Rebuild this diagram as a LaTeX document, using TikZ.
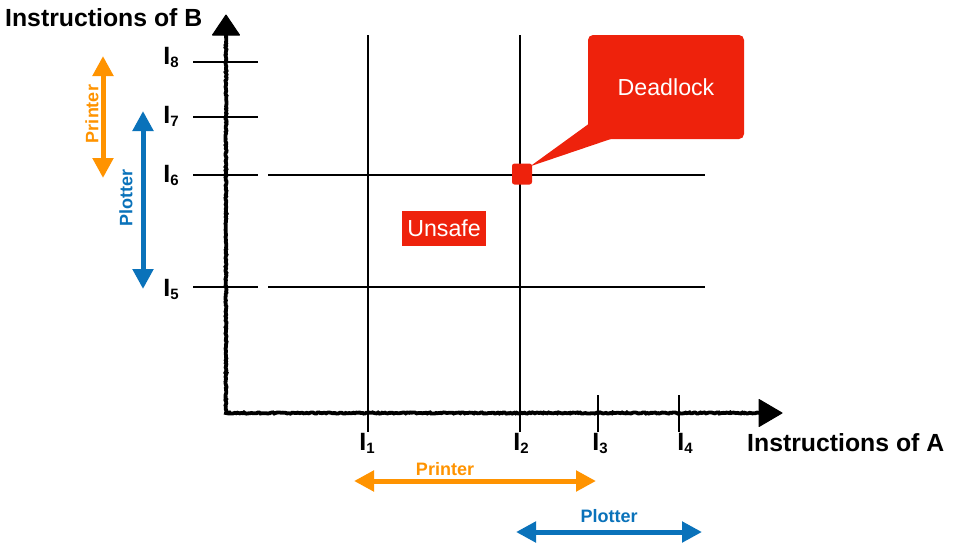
\documentclass[tikz,border=0pt]{standalone}
\usepackage{fontspec}
\setmainfont{Liberation Sans}
\usetikzlibrary{arrows.meta,decorations.pathmorphing,calc}
\definecolor{orng}{HTML}{FF9300}
\definecolor{blu}{HTML}{0A72BA}
\definecolor{redd}{HTML}{EE220C}
\newcommand{\ilab}[1]{{\fontsize{25}{25}\selectfont\bfseries I}\raisebox{-3pt}{\fontsize{15}{15}\selectfont\bfseries #1}}
\begin{document}
\begin{tikzpicture}[x=1pt,y=-1pt,
  axis/.style={line width=3.8pt, decorate, decoration={random steps,segment length=1.5pt,amplitude=0.6pt}},
  axhead/.style={fill=black, draw=black, line width=1pt, line join=round},
  gridline/.style={line width=1.6pt},
  tickline/.style={line width=2pt},
  dblarrow/.style={line width=5pt, {Triangle[width=20pt,length=20pt]}-{Triangle[width=20pt,length=20pt]}},
  reslabel/.style={font=\fontsize{18}{18}\selectfont\bfseries, inner sep=0pt},
  ilabel/.style={inner sep=0pt, anchor=center},
  axtitle/.style={font=\fontsize{24.8}{25}\selectfont\bfseries, inner sep=0pt},
  redbox/.style={fill=redd, text=white, inner sep=0pt, font=\fontsize{23.2}{23}\selectfont}
]
\useasboundingbox (0,0) rectangle (965,549);

% axes
\coordinate (O) at (226,413);
\coordinate (Ytop) at (226,30);
\coordinate (Xend) at (765,413);
\draw[axis] (Ytop) -- (O) -- (Xend);
\fill[axhead] (226,15) -- (239.5,35) -- (212.5,35) -- cycle;
\fill[axhead] (782,413) -- (759,399.5) -- (759,426.5) -- cycle;

% horizontal ticks on y axis
\foreach \yy/\nm in {62/8,117/7,175/6}{
  \coordinate (ya\nm) at (193,\yy);
  \coordinate (yb\nm) at (258,\yy);
  \draw[tickline] (ya\nm) -- (yb\nm);
}
\coordinate (ya5) at (193,287);
\coordinate (yb5) at (258,287);
\draw[line width=2.6pt] (ya5) -- (yb5);

% long horizontal lines
\coordinate (h6a) at (268,175); \coordinate (h6b) at (705,175);
\coordinate (h5a) at (268,287); \coordinate (h5b) at (705,287);
\draw[gridline] (h6a) -- (h6b);
\draw[gridline] (h5a) -- (h5b);

% vertical lines
\coordinate (v1a) at (368,35); \coordinate (v1b) at (368,432);
\coordinate (v2a) at (520,35); \coordinate (v2b) at (520,432);
\coordinate (v3a) at (598,395); \coordinate (v3b) at (598,432);
\coordinate (v4a) at (679,395); \coordinate (v4b) at (679,432);
\draw[gridline] (v1a) -- (v1b);
\draw[gridline] (v2a) -- (v2b);
\draw[tickline] (v3a) -- (v3b);
\draw[tickline] (v4a) -- (v4b);

% labels
\node[ilabel] (l8) at (171,57) {\ilab{8}};
\node[ilabel] (l7) at (171,116) {\ilab{7}};
\node[ilabel] (l6) at (171,175) {\ilab{6}};
\node[ilabel] (l5) at (171,289) {\ilab{5}};
\node[ilabel] (l1) at (367,443) {\ilab{1}};
\node[ilabel] (l2) at (521,443) {\ilab{2}};
\node[ilabel] (l3) at (600,443) {\ilab{3}};
\node[ilabel] (l4) at (685,443) {\ilab{4}};

\node[axtitle, anchor=west] (tb) at (5,18) {Instructions of B};
\node[axtitle, anchor=west] (ta) at (747,443) {Instructions of A};

% resource arrows
\coordinate (po1) at (103,56); \coordinate (po2) at (103,178);
\draw[dblarrow, orng] (po1) -- (po2);
\node[reslabel, text=orng, rotate=90] (pol) at (92,114) {Printer};
\coordinate (pb1) at (143,111); \coordinate (pb2) at (143,289);
\draw[dblarrow, blu] (pb1) -- (pb2);
\node[reslabel, text=blu, rotate=90] (pbl) at (126,198) {Plotter};

\coordinate (ho1) at (354,481); \coordinate (ho2) at (596,481);
\draw[dblarrow, orng] (ho1) -- (ho2);
\node[reslabel, text=orng] (hol) at (445,469) {Printer};
\coordinate (hb1) at (516,532); \coordinate (hb2) at (702,532);
\draw[dblarrow, blu] (hb1) -- (hb2);
\node[reslabel, text=blu] (hbl) at (609,516) {Plotter};

% unsafe
\node[redbox, minimum width=84pt, minimum height=35pt] (uns) at (444,228) {Unsafe};

% deadlock
\node[fill=redd, rounded corners=2.5pt, minimum width=20pt, minimum height=21pt, inner sep=0pt] (dead) at (522,174) {};
\node[redbox, rounded corners=5pt, minimum width=156pt, minimum height=104pt] (dl) at (666,87) {Deadlock};
\fill[redd] ($(dl.south west)+(0.5,-15)$) -- ($(dl.south west)+(23,-0.2)$) -- ($(dead.north east)+(-2,3)$) -- cycle;
\end{tikzpicture}
\end{document}
